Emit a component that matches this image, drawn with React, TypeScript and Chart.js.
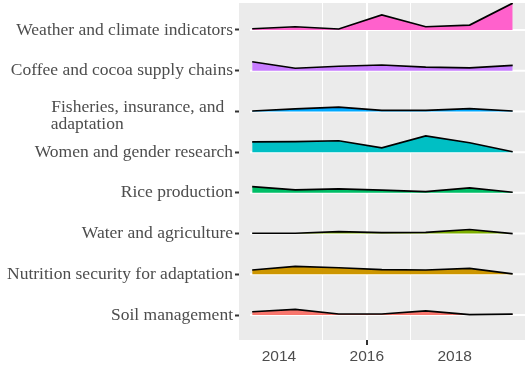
import React, { useEffect, useRef } from "react";
import { Chart, registerables } from "chart.js";

Chart.register(...registerables);

// Categories from bottom (1) to top (8)
const categories: (string | string[])[] = [
  "Soil management",
  "Nutrition security for adaptation",
  "Water and agriculture",
  "Rice production",
  "Women and gender research",
  ["Fisheries, insurance, and  ", "adaptation"],
  "Coffee and cocoa supply chains",
  "Weather and climate indicators",
];

const colors = [
  "#F8766D",
  "#CD9600",
  "#7CAE00",
  "#00BE67",
  "#00BFC4",
  "#00A9FF",
  "#C77CFF",
  "#FF61CC",
];

const years = [2013.39, 2014.37, 2015.36, 2016.34, 2017.34, 2018.34, 2019.32];

// ridge heights (in units of row spacing)
const soil = [0.08, 0.14, 0.025, 0.025, 0.1, 0.01, 0.02];
const nutrition = [0.105, 0.195, 0.16, 0.115, 0.105, 0.145, 0.01];
const water = [0.008, 0.008, 0.05, 0.025, 0.03, 0.1, 0.0];
const rice = [0.155, 0.075, 0.1, 0.065, 0.03, 0.12, 0.015];
const women = [0.25, 0.26, 0.28, 0.105, 0.4, 0.23, 0.01];
const fisheries = [0.01, 0.065, 0.105, 0.025, 0.025, 0.07, 0.01];
const coffee = [0.22, 0.06, 0.11, 0.14, 0.09, 0.07, 0.13];
const weather = [0.03, 0.08, 0.025, 0.37, 0.08, 0.12, 0.66];

const series = [soil, nutrition, water, rice, women, fisheries, coffee, weather];

const xTicks = [2014, 2015, 2016, 2017, 2018];

const X_MIN = 2013.09;
const X_MAX = 2019.6;
const Y_MIN = 0.386;
const Y_MAX = 8.663;

const Y_SIZE = 17.5;
const Y_FONT = `${Y_SIZE}px 'Liberation Serif'`;
// two-line labels sit a little below their row in the reference
const MULTI_SHIFT = 0.11;

function padMultiline(lines: string[]): string[] {
  const c = document.createElement("canvas").getContext("2d")!;
  c.font = Y_FONT;
  const widths = lines.map((l) => c.measureText(l).width);
  const maxW = Math.max(...widths);
  const sp = c.measureText(" ").width;
  return lines.map((l, i) => l + " ".repeat(Math.max(0, Math.round((maxW - widths[i]) / sp))));
}

const bgPlugin = {
  id: "panelBg",
  beforeDraw(chart: any) {
    const { ctx, chartArea } = chart;
    ctx.save();
    ctx.fillStyle = "#EBEBEB";
    ctx.fillRect(chartArea.left, chartArea.top, chartArea.right - chartArea.left, chartArea.bottom - chartArea.top);
    ctx.restore();
  },
};

export default function App() {
  const ref = useRef<HTMLCanvasElement>(null);

  useEffect(() => {
    if (!ref.current) return;
    const labels = categories.map((c) => (Array.isArray(c) ? padMultiline(c) : c));

    // tick positions: one tick mark per row; multi-line labels carried by a shifted, mark-less tick
    const yTickDefs: { value: number; label: any; mark: boolean }[] = [];
    categories.forEach((c, i) => {
      if (Array.isArray(c)) {
        yTickDefs.push({ value: i + 1, label: "", mark: true });
        yTickDefs.push({ value: i + 1 - MULTI_SHIFT, label: labels[i], mark: false });
      } else {
        yTickDefs.push({ value: i + 1, label: labels[i], mark: true });
      }
    });
    yTickDefs.sort((a, b) => a.value - b.value);

    const ridgeSets = series.map((h, i) => ({
      type: "line" as const,
      data: years.map((x, k) => ({ x, y: i + 1 + h[k] })),
      backgroundColor: colors[i],
      borderColor: "#000000",
      borderWidth: 1.7,
      pointRadius: 0,
      tension: 0,
      fill: { value: i + 1 },
      order: 1,
    }));
    const baseSets = series.map((_, i) => ({
      type: "line" as const,
      data: [
        { x: years[0] - 0.05, y: i + 1 },
        { x: X_MAX, y: i + 1 },
      ],
      borderColor: "#FFFFFF",
      borderWidth: 2,
      pointRadius: 0,
      fill: false,
      order: 2,
    }));

    const chart = new Chart(ref.current, {
      type: "line",
      data: { datasets: [...ridgeSets, ...baseSets] as any },
      plugins: [bgPlugin],
      options: {
        animation: false,
        responsive: false,
        layout: { padding: { top: 3, left: 0, right: 0, bottom: 0 } },
        plugins: { legend: { display: false }, tooltip: { enabled: false } },
        scales: {
          x: {
            type: "linear",
            min: X_MIN,
            max: X_MAX,
            afterBuildTicks: (axis: any) => {
              axis.ticks = xTicks.map((v) => ({ value: v }));
            },
            afterFit: (axis: any) => {
              axis.height = 30;
              axis.paddingLeft = 0;
              axis.paddingRight = 0;
            },
            border: { display: false },
            grid: {
              color: (ctx: any) => {
                const v = ctx.tick?.value;
                return v === 2015 || v === 2016 || v === 2017 ? "#FFFFFF" : "rgba(0,0,0,0)";
              },
              lineWidth: (ctx: any) => (ctx.tick?.value === 2016 ? 2 : 1),
              tickColor: (ctx: any) => (ctx.tick?.value === 2016 ? "#333333" : "rgba(0,0,0,0)"),
              tickWidth: 2,
              tickLength: 5,
            },
            ticks: {
              autoSkip: false,
              maxRotation: 0,
              padding: 2,
              color: "#4D4D4D",
              font: { family: "'Liberation Sans'", size: 15.5 },
              callback: (v: any) => (Number(v) % 2 === 0 ? String(v) : ""),
            },
          },
          y: {
            type: "linear",
            min: Y_MIN,
            max: Y_MAX,
            afterBuildTicks: (axis: any) => {
              axis.ticks = yTickDefs.map((t) => ({ value: t.value }));
            },
            afterFit: (axis: any) => {
              axis.width = 239;
              axis.paddingTop = 0;
              axis.paddingBottom = 0;
            },
            border: { display: false },
            grid: {
              drawOnChartArea: false,
              tickColor: (ctx: any) => {
                const d = yTickDefs[ctx.index];
                return d && d.mark ? "#333333" : "rgba(0,0,0,0)";
              },
              tickWidth: 2,
              tickLength: 4,
            },
            ticks: {
              autoSkip: false,
              padding: 2,
              color: "#4D4D4D",
              font: { family: "'Liberation Serif'", size: Y_SIZE, lineHeight: 0.92 },
              callback: (_v: any, index: number) => yTickDefs[index]?.label,
            },
          },
        },
      },
    });
    return () => chart.destroy();
  }, []);

  return (
    <div style={{ position: "fixed", left: 0, top: 0, width: 525, height: 370, background: "#FFFFFF" }}>
      <canvas ref={ref} width={525} height={370} style={{ width: 525, height: 370 }} />
    </div>
  );
}
